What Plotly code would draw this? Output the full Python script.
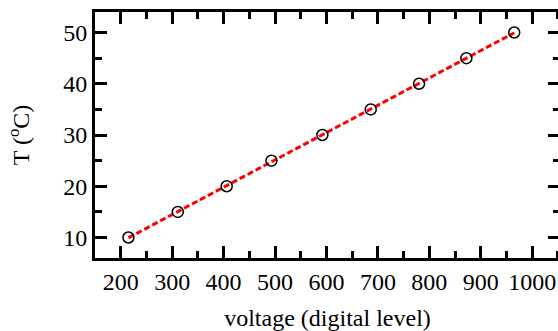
import plotly.graph_objects as go

voltage = [215, 311, 406, 493, 592, 686, 780, 872, 965]
temperature = [10, 15, 20, 25, 30, 35, 40, 45, 50]
x_ticks = [200, 300, 400, 500, 600, 700, 800, 900, 1000]
y_ticks = [10, 20, 30, 40, 50]

# linear fit line
n = len(voltage)
mx = sum(voltage) / n
my = sum(temperature) / n
slope = sum((a - mx) * (b - my) for a, b in zip(voltage, temperature)) / sum((a - mx) ** 2 for a in voltage)
icpt = my - slope * mx
fit_x = [voltage[0], voltage[-1]]
fit_y = [slope * v + icpt for v in fit_x]

fig = go.Figure()
fig.add_trace(go.Scatter(x=fit_x, y=fit_y, mode="lines",
                         line=dict(color="#ff0000", width=3, dash="6px,3px"),
                         showlegend=False))
fig.add_trace(go.Scatter(x=voltage, y=temperature, mode="markers",
                         marker=dict(symbol="circle-open", size=11, color="black",
                                     line=dict(width=1.5, color="black")),
                         showlegend=False))

font = dict(family="Liberation Serif, Times New Roman, serif", size=24, color="black")
axis_common = dict(showline=True, linewidth=3, linecolor="black", mirror="allticks",
                   ticks="inside", ticklen=12, tickwidth=3, tickcolor="black",
                   showgrid=False, zeroline=False, tickfont=font, automargin=False)

fig.update_xaxes(range=[150, 1054], tickvals=x_ticks, ticktext=[str(v) for v in x_ticks],
                 title=dict(text="voltage (digital level)", font=font, standoff=19),
                 minor=dict(ticks="inside", ticklen=7, tickwidth=3, tickcolor="black",
                            dtick=50, tick0=150, showgrid=False),
                 **axis_common)
fig.update_yaxes(range=[6, 54], tickvals=y_ticks, ticktext=[str(v) for v in y_ticks],
                 title=dict(text="T (<sup>o</sup>C)", font=font, standoff=27),
                 minor=dict(ticks="inside", ticklen=7, tickwidth=3, tickcolor="black",
                            dtick=5, tick0=5, showgrid=False),
                 **axis_common)

fig.update_layout(width=560, height=331, margin=dict(l=95, r=0, t=12, b=73),
                  plot_bgcolor="white", paper_bgcolor="white", font=font)
fig.write_html("out.html", config={"displayModeBar": False},
               post_script="document.body.style.margin='0';document.body.style.overflow='hidden';")
